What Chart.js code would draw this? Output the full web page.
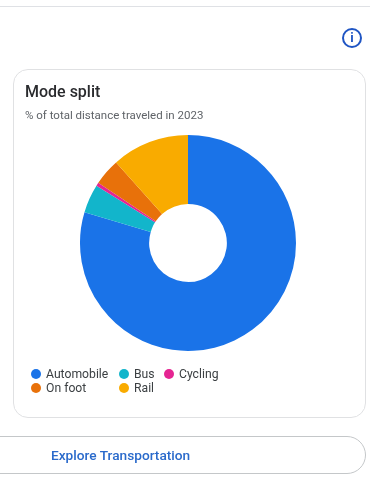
<!DOCTYPE html>
<html><head><meta charset="utf-8">
<script src="https://cdn.jsdelivr.net/npm/chart.js@4"></script>
<style>
html,body{margin:0;padding:0;background:#fff;width:370px;height:477px;overflow:hidden;font-family:Roboto,sans-serif}
#page{position:relative;width:370px;height:477px;filter:blur(.5px)}
.abs{position:absolute;white-space:nowrap}
#rule{left:0;top:6px;width:370px;height:1px;background:#dfe1e5}
#info{left:342px;top:28px;width:16px;height:16px;border:2px solid #1f55c4;border-radius:50%;color:#1f55c4;font:700 13px/16px Roboto,sans-serif;text-align:center}
#card{left:13px;top:69px;width:352px;height:348px;border:1px solid #e0e1e3;border-radius:15px;box-sizing:border-box;width:353px;height:349px}
#title{left:25px;top:82px;font-size:16px;line-height:20px;font-weight:500;color:#2a2b2e}
#sub{left:25px;top:108px;font-size:11.5px;line-height:14px;color:#5f6368}
#wrap{left:70px;top:125px;width:236px;height:236px}
.dot{position:absolute;width:10px;height:10px;border-radius:50%}
.lab{position:absolute;font-size:12.2px;line-height:14px;color:#3c4043;white-space:nowrap}
#btn{left:-30px;top:436px;width:396px;height:38px;border:1px solid #c4c7c9;border-radius:19px;box-sizing:border-box}
#btnt{left:51px;top:446px;font-size:13.7px;line-height:18px;font-weight:500;color:#2a6acb}
</style></head><body>
<div id="page">
<div class="abs" id="rule"></div>
<div class="abs" id="info">i</div>
<div class="abs" id="card"></div>
<div class="abs" id="title">Mode split</div>
<div class="abs" id="sub">% of total distance traveled in 2023</div>
<div class="abs" id="wrap"><canvas id="c" width="236" height="236"></canvas></div>
<div id="legend"></div>
<div class="abs" id="btn"></div>
<div class="abs" id="btnt">Explore Transportation</div>
</div>
<script>
const categories=["Automobile","Bus","Cycling","On foot","Rail"];
const shares=[79.6,4.3,0.5,4.0,11.6];
const colors=["#1a73e8","#12b5cb","#e52592","#e8710a","#f9ab00"];
const legendX=[31,119,164];
const legendY=[369,383];
const legendCells=[[0,0],[1,0],[2,0],[0,1],[1,1]];
new Chart(document.getElementById('c'),{
  type:'doughnut',
  data:{labels:categories,datasets:[{data:shares,backgroundColor:colors,borderWidth:0}]},
  options:{responsive:false,animation:false,cutout:'36%',radius:108,
    layout:{padding:0},
    plugins:{legend:{display:false},tooltip:{enabled:false}}}
});
const lg=document.getElementById('legend');
categories.forEach((name,i)=>{
  const [cx,cy]=legendCells[i];
  const d=document.createElement('div');d.className='dot';d.style.cssText=`left:${legendX[cx]}px;top:${legendY[cy]}px;background:${colors[i]}`;
  const t=document.createElement('div');t.className='lab';t.textContent=name;t.style.left=(legendX[cx]+15)+'px';t.style.top=(legendY[cy]-2)+'px';
  lg.append(d,t);
});
</script>
</body></html>
